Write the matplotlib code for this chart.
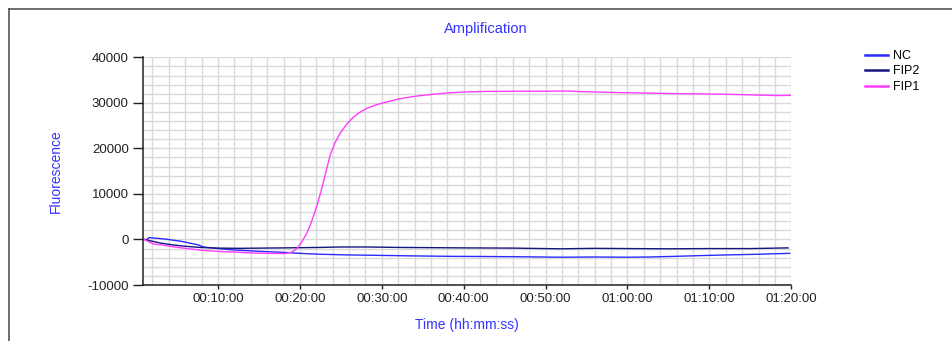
import matplotlib
matplotlib.use("Agg")
import matplotlib.pyplot as plt
from matplotlib.ticker import MultipleLocator, FuncFormatter
from matplotlib.lines import Line2D

plt.rcParams['font.family'] = ['Liberation Sans', 'DejaVu Sans']
plt.rcParams['axes.unicode_minus'] = False

# time in minutes, fluorescence values
nc_t = [1.3, 1.6, 3.5, 5.5, 7.6, 8.2, 10.0, 11.9, 15.0, 17.6, 20.0, 22.5, 26.0, 30.0,
        33.4, 38.0, 43.0, 47.0, 51.8, 56.0, 60.0, 62.7, 66.0, 68.8, 72.0, 76.0, 79.8]
nc_v = [0, 400, 100, -400, -1200, -1650, -2000, -2300, -2600, -2800, -3050, -3250, -3400, -3500,
        -3600, -3700, -3750, -3800, -3900, -3850, -3900, -3850, -3700, -3550, -3400, -3250, -3050]

fip2_t = [1.0, 2.0, 3.0, 4.5, 6.0, 7.8, 10.0, 12.7, 15.0, 18.0, 22.5, 25.0, 28.0, 32.0,
          40.0, 46.0, 51.8, 56.0, 60.0, 65.0, 70.0, 75.0, 79.6]
fip2_v = [0, -400, -800, -1200, -1500, -1750, -1900, -1950, -1900, -1850, -1750, -1650, -1650, -1750,
          -1850, -1900, -2050, -1950, -2000, -2050, -2000, -2000, -1850]

fip1_t = [1.0, 2.1, 3.0, 4.5, 6.2, 8.2, 10.2, 11.9, 13.9, 15.9, 18.2, 19.0, 19.6, 20.2, 20.8,
          21.4, 22.05, 22.7, 23.2, 23.7, 24.3, 24.9, 25.7, 26.5, 27.3, 28.2, 29.2, 30.2, 32.2,
          34.3, 36.3, 38.3, 40.4, 42.4, 46.5, 50.0, 52.6, 54.6, 57.5, 60.7, 63.7, 66.8,
          69.8, 72.9, 76.0, 78.5, 80.0]
fip1_v = [0, -1000, -1150, -1600, -2000, -2400, -2650, -2750, -2950, -3050, -3100, -2800, -2100, -600, 1200,
          3800, 7200, 11400, 15000, 18500, 21300, 23300, 25300, 26800, 27900, 28800, 29500, 30000, 30900,
          31500, 31900, 32200, 32400, 32500, 32550, 32550, 32600, 32450, 32300, 32200, 32100, 32000,
          31950, 31850, 31700, 31600, 31650]

series_names = ['NC', 'FIP2', 'FIP1']
series_colors = ['#2a2aff', '#15157f', '#ff3cff']


def hms(x, pos):
    s = int(round(x * 60))
    return '%02d:%02d:%02d' % (s // 3600, (s % 3600) // 60, s % 60)


fig = plt.figure(figsize=(9.52, 3.41), dpi=100)
ax = fig.add_axes([143.3 / 952, 1 - 285 / 341, (791.3 - 143.3) / 952, (285 - 57.3) / 341])

# outer frame (only top and left edges visible in the reference)
fig.add_artist(Line2D([9 / 952, 9 / 952], [0, 1 - 9 / 341], transform=fig.transFigure, color='#555555', lw=1.2))
fig.add_artist(Line2D([9 / 952, 1], [1 - 9 / 341, 1 - 9 / 341], transform=fig.transFigure, color='#555555', lw=1.2))

for t, v, name, c in zip([nc_t, fip2_t, fip1_t], [nc_v, fip2_v, fip1_v], series_names, series_colors):
    ax.plot(t, v, color=c, lw=1.0, label=name)

ax.set_xlim(0.88, 80)
ax.set_ylim(-10000, 40000)
ax.xaxis.set_major_locator(MultipleLocator(10))
ax.xaxis.set_minor_locator(MultipleLocator(2))
ax.yaxis.set_major_locator(MultipleLocator(10000))
ax.yaxis.set_minor_locator(MultipleLocator(2000))
ax.xaxis.set_major_formatter(FuncFormatter(hms))

ax.grid(which='both', color='#dadada', lw=1.0)
ax.set_axisbelow(True)
for side in ['top', 'right']:
    ax.spines[side].set_visible(False)
for side in ['left', 'bottom']:
    ax.spines[side].set_color('#222222')
    ax.spines[side].set_linewidth(1.1)

ax.tick_params(axis='y', which='major', length=7.5, width=1, color='#222222', pad=3, labelsize=9.5, labelcolor='#222222')
ax.tick_params(axis='x', which='major', length=3, width=1, color='#222222', pad=3, labelsize=9.5, labelcolor='#222222')
ax.tick_params(which='minor', length=0)

blue = '#3333ff'
fig.text(486 / 952, 1 - 28.5 / 341, 'Amplification', color=blue, fontsize=10.5, ha='center', va='center')
fig.text(56 / 952, 1 - 171 / 341, 'Fluorescence', color=blue, fontsize=10, rotation=90, ha='center', va='center')
ax.set_xlabel('Time (hh:mm:ss)', color=blue, fontsize=10, labelpad=9)

leg = fig.legend(loc='upper left', bbox_to_anchor=(865 / 952, 1 - 50 / 341), frameon=False, fontsize=9,
                 handlelength=1.85, handletextpad=0.4, labelspacing=0.28, borderpad=0, borderaxespad=0)
for line in leg.get_lines():
    line.set_linewidth(1.8)

fig.savefig('out.png', dpi=100)
